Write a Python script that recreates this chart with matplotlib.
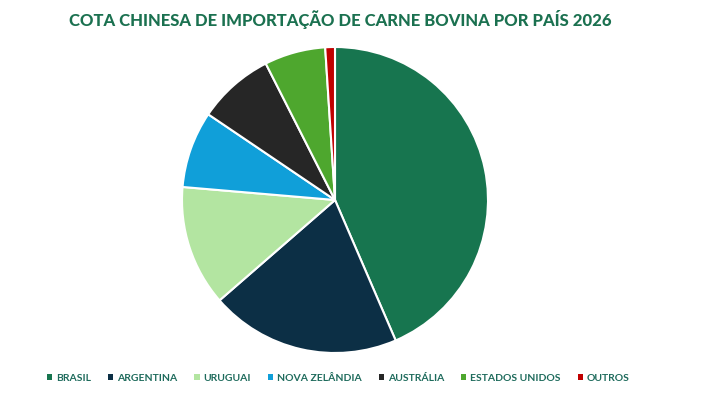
import matplotlib.pyplot as plt
from matplotlib.patches import Patch

paises = ['BRASIL', 'ARGENTINA', 'URUGUAI', 'NOVA ZELÂNDIA', 'AUSTRÁLIA', 'ESTADOS UNIDOS', 'OUTROS']
cota_mil_t = [1106, 511, 324, 206, 205, 164, 26]
cores = ['#17754F', '#0C2F45', '#B3E5A1', '#109FD9', '#262626', '#4EA72E', '#C00000']

fig = plt.figure(figsize=(7.05, 3.93), dpi=100)
fig.patch.set_facecolor('white')

ax = fig.add_axes([182 / 705, 40 / 393, 306 / 705, 306 / 393])
ax.pie(cota_mil_t, colors=cores, startangle=90, counterclock=False,
       wedgeprops=dict(edgecolor='white', linewidth=1.5))
ax.set_xlim(-1, 1)
ax.set_ylim(-1, 1)
ax.set_aspect('equal')

fig.text(0.483, 0.95, 'COTA CHINESA DE IMPORTAÇÃO DE CARNE BOVINA POR PAÍS 2026',
         ha='center', va='center', fontsize=12, fontweight='black',
         color='#1B7150', family='Lato')

handles = [Patch(facecolor=c, edgecolor='none') for c in cores]
leg = fig.legend(handles, paises, loc='center', bbox_to_anchor=(0.48, 0.038),
                 ncol=7, frameon=False, handlelength=0.5, handleheight=0.5,
                 handletextpad=0.4, columnspacing=1.6,
                 prop=dict(family='Lato', weight='bold', size=7.5))
for t in leg.get_texts():
    t.set_color('#1E6B5C')

fig.savefig('out.png', dpi=100, facecolor='white')
